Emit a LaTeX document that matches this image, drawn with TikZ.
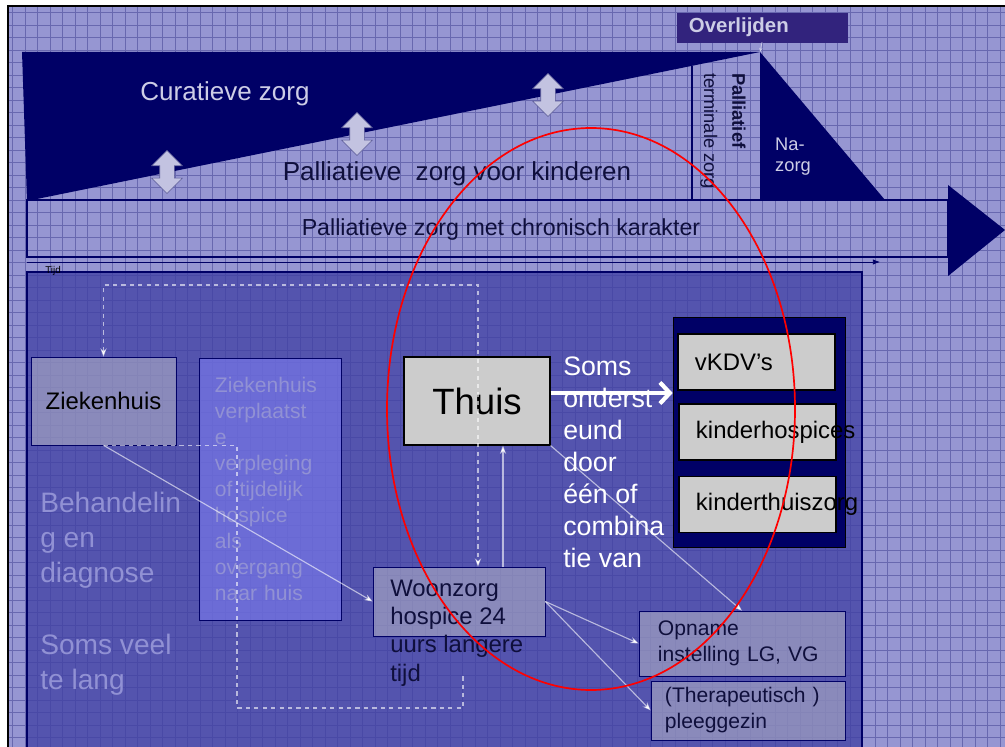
\documentclass[tikz,border=0pt]{standalone}
\usepackage{fontspec}
\setmainfont{Liberation Sans}
\usepackage{xcolor}
\usepackage{tikz}
\usetikzlibrary{shapes,shapes.arrows,arrows.meta,positioning,calc}
\hyphenpenalty=10000
\exhyphenpenalty=10000
\definecolor{bgblue}{RGB}{150,150,210}
\definecolor{panelblue}{RGB}{63,63,163}
\definecolor{navy}{RGB}{0,0,102}
\definecolor{gridblue}{RGB}{20,20,110}
\definecolor{overlbox}{RGB}{50,35,125}
\definecolor{palegray}{RGB}{204,204,204}
\definecolor{midfill}{RGB}{125,125,242}
\definecolor{fainttext}{RGB}{145,145,212}
\definecolor{darktext}{RGB}{15,15,60}
\definecolor{lighttext}{RGB}{205,205,230}
\definecolor{arrowfill}{RGB}{195,195,225}
\definecolor{arrowedge}{RGB}{90,90,150}
\tikzset{
  graybox/.style={draw=navy, fill=palegray, fill opacity=0.45, text opacity=1, inner sep=0pt},
  solidbox/.style={draw=black, fill=palegray, line width=0.8pt},
  kbox/.style={solidbox, minimum width=3.925cm, minimum height=1.4cm, text width=3.075cm, inner xsep=0.425cm, align=left, font=\fontsize{17}{20}\selectfont},
  dblarr/.style={double arrow, rotate=90, draw=arrowedge, fill=arrowfill, minimum height=1.075cm, minimum width=0.75cm, double arrow head extend=0.2cm, inner xsep=0pt, inner ysep=0.175cm},
  wconn/.style={draw=white, draw opacity=0.6, line width=0.8pt, -{Stealth[length=6pt]}},
  wdash/.style={wconn, dashed},
  bigarr/.style={draw=white, line width=3pt, -{Straight Barb[length=7pt,width=15pt]}},
  faint/.style={text=fainttext, align=left, inner sep=0pt, anchor=west}
}
\begin{document}
\begin{tikzpicture}[x=0.025cm, y=-0.025cm]
\useasboundingbox (0,0) rectangle (1005,747);
\fill[white] (0,0) rectangle (1005,747);
\fill[bgblue] (8,6) rectangle (1005,747);
\draw[step=0.3125cm, gridblue, line width=0.5pt, opacity=0.35] (8,747) grid (1005,6);
\draw[black, line width=0.8pt] (8,747) -- (8,6) -- (1005,6);

\fill[navy] (22,52) -- (760,52) -- (27,201) -- cycle;
\draw[navy, line width=0.8pt] (692,66) -- (692,200);
\fill[navy] (760,52) -- (760,200) -- (885,200) -- cycle;
\draw[navy, line width=0.8pt] (27,200) rectangle (948,257);
\fill[navy] (948,185) -- (1005,230) -- (948,276) -- cycle;
\coordinate (t0) at (27,262);
\coordinate (t1) at (880,262);
\draw[navy, line width=0.5pt, -{Latex[length=5pt]}] (t0) -- (t1);
\fill[panelblue, opacity=0.75] (27,272) rectangle (862,747);
\draw[navy, line width=0.8pt] (27,747) -- (27,272) -- (862,272) -- (862,747);

\node[draw=overlbox, fill=overlbox, minimum width=4.25cm, minimum height=0.725cm, text width=3.65cm, inner xsep=0.3cm, align=left, text=lighttext, font=\bfseries\fontsize{14.5}{16}\selectfont] (overl) at (762,27.5) {Overlijden};
\coordinate (death) at (760,52);
\draw[lighttext, line width=0.5pt, -{Stealth[length=3pt]}] (overl.south) -- (death);

\node[text=lighttext, font=\fontsize{18.5}{22}\selectfont] (cura) at (225,94) {Curatieve zorg};
\node[text=darktext, font=\fontsize{18.5}{22}\selectfont] (palkind) at (457,174) {Palliatieve\ \ zorg voor kinderen};
\node[text=darktext, font=\fontsize{16.5}{20}\selectfont] (chron) at (501,230) {Palliatieve zorg met chronisch karakter};
\node[rotate=-90, align=left, text=darktext, font=\fontsize{13}{20}\selectfont] (term) at (723,131) {\textbf{Palliatief}\\terminale zorg};
\node[align=left, text=lighttext, font=\fontsize{13}{15}\selectfont] (nazorg) at (793,157) {Na-\\zorg};
\node[inner sep=0pt, font=\fontsize{7}{8}\selectfont] (tijd) at (53,271) {Tijd};

\node[dblarr] (dblA) at (167,172) {};
\node[dblarr] (dblB) at (357,134) {};
\node[dblarr] (dblC) at (548,95) {};

\node[graybox, minimum width=3.625cm, minimum height=2.2cm, font=\fontsize{17}{20}\selectfont] (zkh) at (103.5,401) {Ziekenhuis};
\node[draw=navy, fill=midfill, fill opacity=0.6, text opacity=1, minimum width=3.55cm, minimum height=6.55cm, text width=2.75cm, align=left, text=fainttext, font=\fontsize{15}{18.5}\selectfont] (verpl) at (270,489) {Ziekenhuis\\verplaatst\\e\\verpleging\\of tijdelijk\\hospice\\als\\overgang\\naar huis};
\node[faint, font=\fontsize{20}{25}\selectfont] (behand) at (40,540) {Behandelin\\g en\\diagnose};
\node[faint, font=\fontsize{20}{25}\selectfont] (teveel) at (40,665) {Soms veel\\te lang};

\node[solidbox, minimum width=3.65cm, minimum height=2.2cm, font=\fontsize{26}{30}\selectfont] (thuis) at (477,401) {Thuis};
\node[anchor=west, align=left, text=white, inner sep=0pt, font=\fontsize{19}{22.8}\selectfont] (soms) at (563,462) {Soms\\onderst\\eund\\door\\één of\\combina\\tie van};

\node[draw=black, fill=navy, minimum width=4.3cm, minimum height=5.75cm] (grp) at (759,432) {};
\node[kbox] (kdv) at (756.5,362) {vKDV’s};
\node[kbox] (khosp) at (757.5,432) {kinderhospices};
\node[kbox] (kthuis) at (757.5,504.5) {kinderthuiszorg};

\node[graybox, minimum width=4.3cm, minimum height=1.725cm] (woon) at (459,601.5) {};
\node[anchor=north west, align=left, text=darktext, inner sep=0pt, font=\fontsize{17}{20}\selectfont] (woontxt) at (390,580) {Woonzorg\\hospice 24\\uurs langere\\tijd};
\node[graybox, minimum width=5.15cm, minimum height=1.625cm, text width=4.2cm, inner xsep=0.475cm, align=left, text=darktext, font=\fontsize{15}{18.5}\selectfont] (opname) at (742,643.5) {Opname\\instelling LG, VG};
\node[graybox, minimum width=4.85cm, minimum height=1.475cm, text width=4.15cm, inner xsep=0.35cm, align=left, text=darktext, font=\fontsize{15}{18.5}\selectfont] (pleeg) at (748,710.5) {(Therapeutisch )\\pleeggezin};

\coordinate (topturn) at (478,285);
\draw[wdash, {Stealth[length=6pt]}-{Stealth[length=6pt]}] (zkh.north) |- (topturn) -- (topturn |- woon.north);
\coordinate (upx) at (503,0);
\draw[wconn] (woon.north -| upx) -- (thuis.south -| upx);
\coordinate (lowA) at (237,708);
\coordinate (lowB) at (463,673);
\draw[wdash, -] (zkh.south) -| (lowA) -- (lowA -| lowB) -- (lowB);
\draw[wconn] (zkh.south) -- (woon.west);
\draw[wconn] (woon.east) -- (opname.west);
\draw[wconn] (woon.east) -- (pleeg.west);
\draw[wconn] (thuis.south east) -- (opname.north);
\draw[bigarr] ($(thuis.east)+(0,-8)$) -- ($(thuis.east -| grp.west)+(0,-8)$);

\draw[red, line width=1.2pt] (591,409) ellipse [x radius=204, y radius=281];
\end{tikzpicture}
\end{document}
